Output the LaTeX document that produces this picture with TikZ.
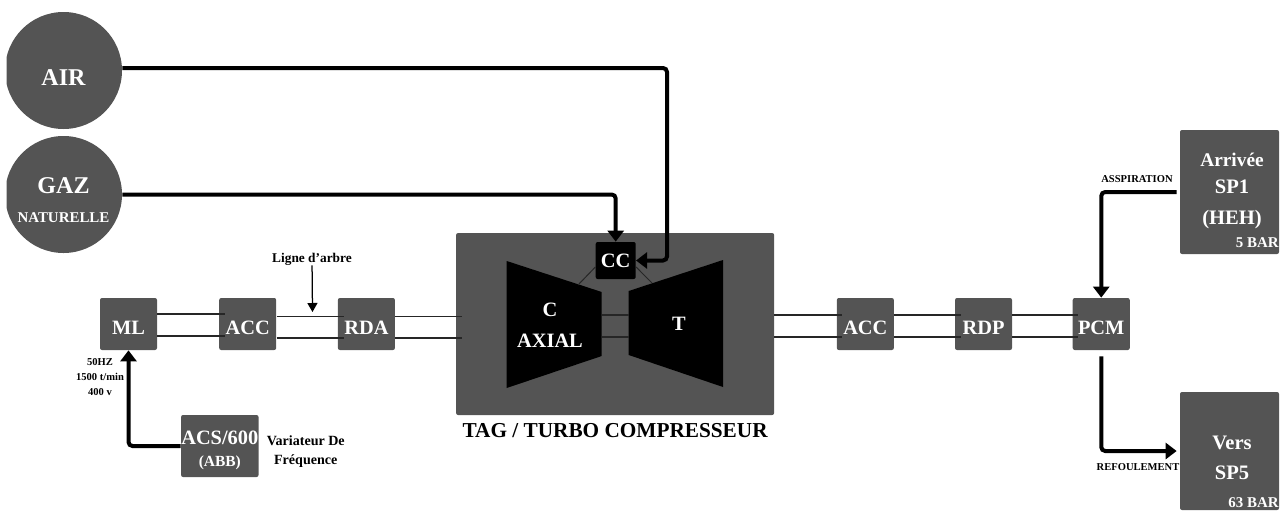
\documentclass[tikz,border=0pt]{standalone}
\usepackage{fontspec}
\setmainfont{Liberation Serif}
\usepackage{xcolor}
\usetikzlibrary{positioning,arrows.meta,calc}
\definecolor{tagrey}{HTML}{545454}
\newcommand{\fs}[1]{\fontsize{#1}{#1}\selectfont\bfseries}

\begin{document}
\begin{tikzpicture}[
  x=0.2mm, y=-0.2mm,
  node distance=12.3mm,
  box/.style={fill=tagrey, rounded corners=0.4mm, align=center, text=white, inner sep=0pt, font=\fs{11.6}, minimum width=11.4mm, minimum height=10.4mm},
  linebox/.style={box, text height=4.3mm},
  src/.style={circle, fill=tagrey, text=white, align=center, inner sep=0pt, minimum size=23.4mm},
  side/.style={box, minimum width=19.8mm, font=\fs{11}},
  note/.style={align=center, inner sep=0pt, font=\fs{6}},
  shaft/.style={line width=0.25mm, black!85},
  pipe/.style={line width=0.8mm, rounded corners=0.8mm, -{Triangle[length=2.2mm,width=3.2mm]}}]
\useasboundingbox (0,0) rectangle (1285,510);
\clip (6.5,0) rectangle (1279,510);
% sources
\node[src, font=\fs{13.7}] (air) at (63.5,70.5) {\raisebox{-2.9mm}[0pt][0pt]{AIR}};
\node[src, font=\fs{13.7}] (gaz) at (63.5,194.5) {\rule{0pt}{5.4mm}GAZ\\[1mm]\fs{8.5}NATURELLE};
% shaft line, left to right
\node[linebox] (ml) at (128.5,324) {ML};
\node[linebox, right=of ml] (accg) {ACC};
\node[linebox, right=12.2mm of accg] (rda) {RDA};
\node[box, minimum width=63.6mm, minimum height=36.4mm, right=12.1mm of rda] (tag) {};
\node[linebox, right=12.4mm of tag] (accd) {ACC};
\node[linebox, right=12.1mm of accd] (rdp) {RDP};
\node[linebox, right=12mm of rdp] (pcm) {PCM};
% turbine
\fill (506.7,261) -- (601.7,292) -- (601.7,356) -- (506.7,388) -- cycle;
\fill (723,260) -- (628.7,291) -- (628.7,355) -- (723,387) -- cycle;
\node[box, fill=black, minimum width=8mm, minimum height=7.4mm] (cc) at (615.7,260.5) {CC};
\node[text=white, align=center, font=\fs{11.6}] (caxial) at (550,325) {C\\[2.2mm]AXIAL};
\node[text=white, font=\fs{11.6}] (turb) at (679,324) {T};
\node[font=\fs{12.1}, below=0.4mm of tag] (taglabel) {TAG / TURBO COMPRESSEUR};
\coordinate (cmid) at (578,285);
\coordinate (tmid) at (652,283);
\coordinate (cshaft) at (601.7,326);
\coordinate (tshaft) at (628.7,326);
\draw[shaft, line width=0.2mm] (cc.west) ++(0,6.5) -- (cmid);
\draw[shaft, line width=0.2mm] (cc.east) ++(0,6.5) -- (tmid);
\draw[shaft] ([yshift=2.2mm]cshaft) -- ([yshift=2.2mm]tshaft);
\draw[shaft] ([yshift=-2.2mm]cshaft) -- ([yshift=-2.2mm]tshaft);
% drive
\node[box, minimum width=15.5mm, minimum height=12.4mm] (acs) at (219.8,446) {\rule{0pt}{4.5mm}ACS/600\\[0.2mm]\fs{8.8}(ABB)};
\node[note, font=\fs{8}, right=1.5mm of acs, yshift=-1.1mm] (vfd) {Variateur De\\[1mm]Fréquence};
\node[note] (elec) at (100,377) {50HZ\\[0.8mm]1500 t/min\\[0.8mm]400 v};
\node[note, font=\fs{7.6}] (ligne) at (312,259) {Ligne d’arbre};
\coordinate (arbre) at (312.5,312);
% piping ends
\node[side, minimum height=24.8mm] (arrivee) at (1229.5,192) {};
\node[text=white, align=center, inner sep=0pt, font=\fs{11}] (arrtxt) at (1232,191) {Arrivée\\[1.6mm]\fs{11.7}SP1\\[2.4mm]\fs{11.7}(HEH)};
\node[text=white, anchor=east, inner sep=0pt, font=\fs{8.5}] (pin) at (1279,243) {5 BAR};
\node[side, minimum height=23.6mm] (vers) at (1229.5,451) {};
\node[text=white, align=center, inner sep=0pt, font=\fs{11.7}] (verstxt) at (1232,458) {Vers\\[1.8mm]SP5};
\node[text=white, anchor=east, inner sep=0pt, font=\fs{8.5}] (pout) at (1279,503) {63 BAR};
\node[note] (asp) at (1137,179) {ASSPIRATION};
\node[note] (ref) at (1138,467) {REFOULEMENT};
% shaft lines
\foreach \a/\b/\up/\dn in {ml/accg/2/-2.4, accg/rda/1.55/-2.8, rda/tag/1.55/-2.8, tag/accd/1.8/-2.6, accd/rdp/1.8/-2.6, rdp/pcm/1.8/-2.6} {
  \draw[shaft] ([yshift=\up mm]\a.east) -- ([xshift=1.2mm,yshift=\up mm]\b.west);
  \draw[shaft] ([yshift=\dn mm]\a.east) -- ([xshift=1.2mm,yshift=\dn mm]\b.west);
}
\draw[-{Triangle[length=1.8mm,width=2mm]}, line width=0.25mm] (ligne) -- (arbre);
% fluid and power
\coordinate (airbend) at (667,68);
\draw[pipe] ([yshift=0.5mm]air.east) -- (airbend) |- (cc.east);
\draw[pipe] (gaz.east) -| (cc.north);
\draw[pipe] (acs.west) -| (ml.south);
\draw[pipe, shorten <=0.6mm] (arrivee.west) -| (pcm.north);
\draw[pipe, shorten <=1.2mm, shorten >=0.6mm] (pcm.south) |- (vers.west);
\end{tikzpicture}
\end{document}
